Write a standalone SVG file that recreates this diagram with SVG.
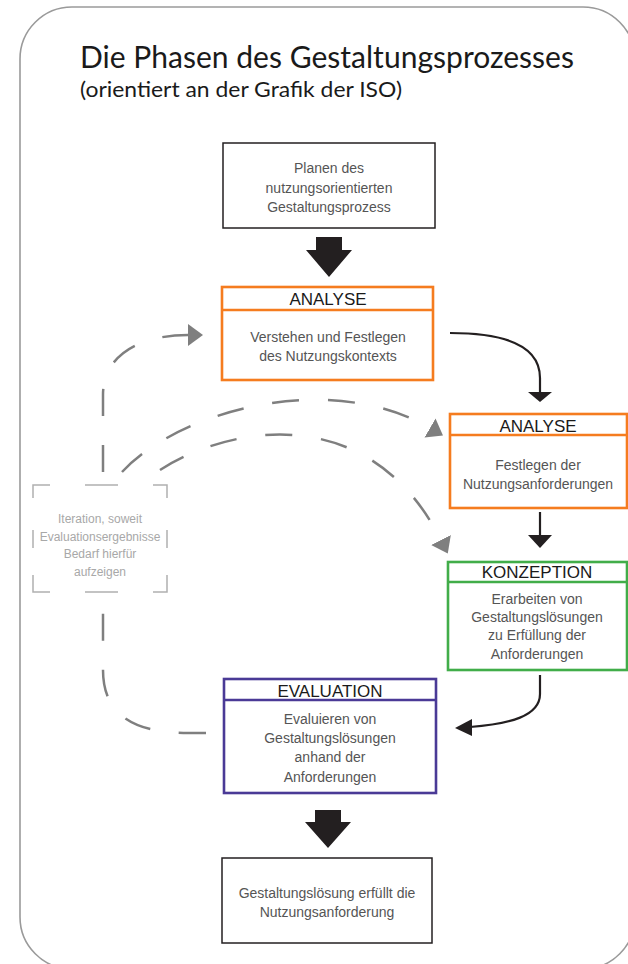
<svg xmlns="http://www.w3.org/2000/svg" width="628" height="964" viewBox="0 0 628 964">
<style>
.frame{fill:#fff;stroke:#9a9a9a;stroke-width:1.6}
.title{font-family:Lato,"Open Sans",sans-serif;fill:#1a1a1a}
.plain{fill:#fff;stroke:#231f20;stroke-width:1.5}
.orange{fill:#fff;stroke:#f57c1f;stroke-width:2.6}
.green{fill:#fff;stroke:#41ad49;stroke-width:2.6}
.purple{fill:#fff;stroke:#4a3a96;stroke-width:2.6}
.body{font-family:"Liberation Sans",Arial,sans-serif;font-size:14px;fill:#555;text-anchor:middle}
.head{font-family:"Liberation Sans",Arial,sans-serif;font-size:17px;fill:#1a1a1a;text-anchor:middle}
.iter{font-family:"Liberation Sans",Arial,sans-serif;font-size:12px;fill:#a8a8a8;text-anchor:middle}
.ibox{fill:none;stroke:#b0b0b0;stroke-width:1.5}
.dash{fill:none;stroke:#7f7f7f;stroke-width:2.5;stroke-dasharray:27 29}
.blk{fill:none;stroke:#231f20;stroke-width:2.2}
.fillblk{fill:#231f20}
</style>
<defs>
<marker id="gh" markerUnits="userSpaceOnUse" markerWidth="16" markerHeight="24" refX="0" refY="11" orient="auto" viewBox="0 0 16 22">
<path d="M0,0 L15,11 L0,22 Z" fill="#7f7f7f"/>
</marker>
</defs>
<rect class="frame" x="20" y="7" width="615" height="962" rx="52" ry="52"/>
<g id="title">
<text class="title" x="80" y="68" font-size="31" textLength="494" lengthAdjust="spacingAndGlyphs">Die Phasen des Gestaltungsprozesses</text>
<text class="title" x="80" y="97" font-size="22" textLength="322" lengthAdjust="spacingAndGlyphs">(orientiert an der Grafik der ISO)</text>
</g>
<g id="connectors">
<polygon class="fillblk" points="316,237 342,237 342,250 352,250 329,277 306,250 316,250"/>
<polygon class="fillblk" points="315,810 341,810 341,822 351,822 328,848 305,822 315,822"/>
<path class="blk" d="M450,333 C505,333 540,345 540,378 L540,393"/>
<polygon class="fillblk" points="528,392 552,392 540,402"/>
<line class="blk" x1="540" y1="512" x2="540" y2="536"/>
<polygon class="fillblk" points="528,535 552,535 540,548"/>
<path class="blk" d="M540,675 L540,694 C540,716 510,724 470,727"/>
<polygon class="fillblk" points="455,728 472,719 472,736"/>
<path class="dash" d="M103,472 L103,395 C103,355 140,335 188,335" marker-end="url(#gh)"/>
<path class="dash" d="M206,733 L188,733 C130,733 103,712 103,670 L103,606"/>
<path class="dash" d="M122,472 C180,410 330,370 430,428" marker-end="url(#gh)"/>
<path class="dash" d="M160,470 C230,425 370,400 441,540" marker-end="url(#gh)"/>
</g>
<g id="plan">
<rect class="plain" x="223" y="143" width="212" height="85"/>
<text class="body" x="329" y="173">Planen des</text>
<text class="body" x="329" y="193">nutzungsorientierten</text>
<text class="body" x="329" y="212">Gestaltungsprozess</text>
</g>
<g id="analyse1">
<rect class="orange" x="222" y="287" width="211" height="93"/>
<line class="orange" x1="222" y1="310" x2="433" y2="310"/>
<text class="head" x="328" y="305">ANALYSE</text>
<text class="body" x="328" y="342">Verstehen und Festlegen</text>
<text class="body" x="328" y="361">des Nutzungskontexts</text>
</g>
<g id="analyse2">
<rect class="orange" x="450" y="414" width="177" height="94"/>
<line class="orange" x1="450" y1="435" x2="627" y2="435"/>
<text class="head" x="538" y="432">ANALYSE</text>
<text class="body" x="538" y="470">Festlegen der</text>
<text class="body" x="538" y="489">Nutzungsanforderungen</text>
</g>
<g id="konzeption">
<rect class="green" x="448" y="562" width="179" height="108"/>
<line class="green" x1="448" y1="582" x2="627" y2="582"/>
<text class="head" x="537" y="578">KONZEPTION</text>
<text class="body" x="537" y="604">Erarbeiten von</text>
<text class="body" x="537" y="622">Gestaltungslösungen</text>
<text class="body" x="537" y="640">zu Erfüllung der</text>
<text class="body" x="537" y="659">Anforderungen</text>
</g>
<g id="evaluation">
<rect class="purple" x="224" y="679" width="212" height="114"/>
<line class="purple" x1="224" y1="700" x2="436" y2="700"/>
<text class="head" x="330" y="697">EVALUATION</text>
<text class="body" x="330" y="724">Evaluieren von</text>
<text class="body" x="330" y="743">Gestaltungslösungen</text>
<text class="body" x="330" y="762">anhand der</text>
<text class="body" x="330" y="782">Anforderungen</text>
</g>
<g id="iteration">
<path class="ibox" d="M33,498 L33,485 L50,485 M85,485 L118,485 M153,485 L167,485 L167,498 M167,530 L167,548 M33,530 L33,548 M33,575 L33,592 L50,592 M85,592 L118,592 M153,592 L167,592 L167,575"/>
<text class="iter" x="100" y="523">Iteration, soweit</text>
<text class="iter" x="100" y="541">Evaluationsergebnisse</text>
<text class="iter" x="100" y="558">Bedarf hierfür</text>
<text class="iter" x="100" y="576">aufzeigen</text>
</g>
<g id="result">
<rect class="plain" x="222" y="858" width="210" height="85"/>
<text class="body" x="327" y="898">Gestaltungslösung erfüllt die</text>
<text class="body" x="327" y="917">Nutzungsanforderung</text>
</g>
</svg>
